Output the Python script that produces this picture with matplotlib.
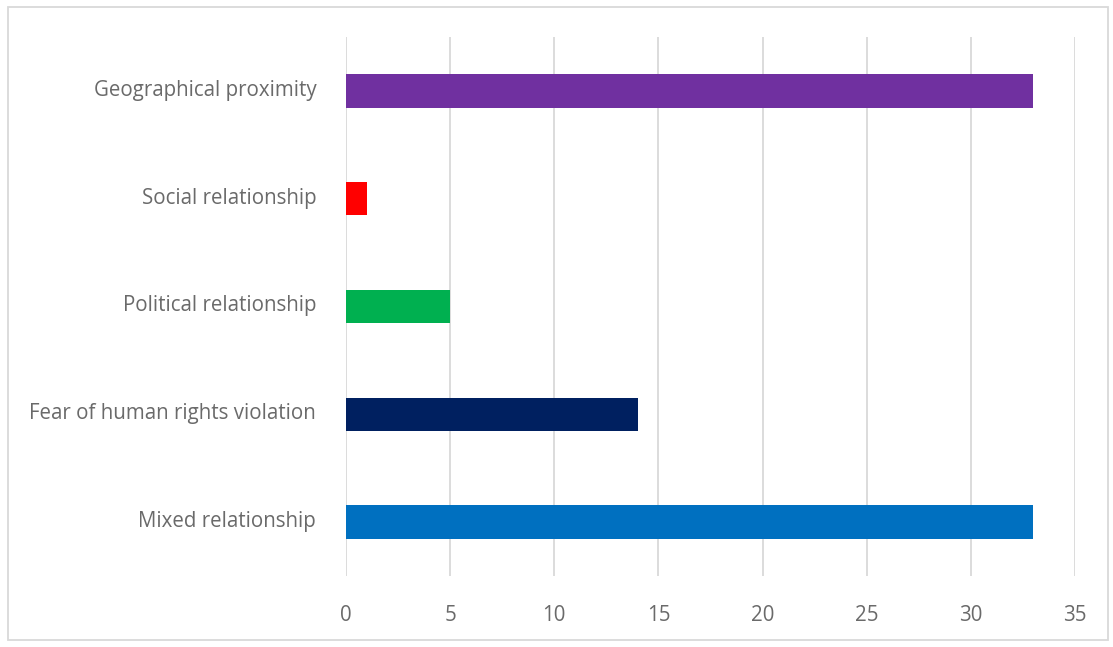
import matplotlib
matplotlib.use("Agg")
import matplotlib.pyplot as plt
import matplotlib.transforms as mtransforms
from matplotlib.patches import Rectangle

categories = ["Mixed relationship", "Fear of human rights violation",
              "Political relationship", "Social relationship",
              "Geographical proximity"]
values = [33, 14, 5, 1, 33]
colors = ["#0070C0", "#002060", "#00B050", "#FF0000", "#7030A0"]
xticks = [0, 5, 10, 15, 20, 25, 30, 35]

plt.rcParams["font.family"] = ["Open Sans", "DejaVu Sans"]

fig = plt.figure(figsize=(11.13, 6.47), dpi=100)
ax = fig.add_axes([346 / 1113, 1 - 576 / 647, (1075 - 346) / 1113, (576 - 37) / 647])

ax.barh(range(len(categories)), values, height=0.31, color=colors, zorder=3)

ax.set_xlim(0, 35)
ax.set_ylim(-0.5, len(categories) - 0.5)
ax.set_xticks(xticks)
ax.set_yticks(range(len(categories)))
ax.set_yticklabels(categories)
ax.tick_params(axis="both", length=0, colors="#6a6a6a", labelsize=14.8)
ax.tick_params(axis="x", pad=21)
ax.tick_params(axis="y", pad=21.5)

# category labels sit a little above the bar centres
shift = mtransforms.ScaledTranslation(0, 3 / 100, fig.dpi_scale_trans)
for lbl in ax.get_yticklabels():
    lbl.set_transform(lbl.get_transform() + shift)

for s in ax.spines.values():
    s.set_visible(False)
ax.grid(axis="x", color="#d9d9d9", linewidth=1.3, zorder=0)

# outer chart border
fig.patches.append(Rectangle((8 / 1113, 1 - 640 / 647), 1100 / 1113, 633 / 647,
                             transform=fig.transFigure, fill=False,
                             edgecolor="#d9d9d9", linewidth=1.3))

fig.savefig("out.png", dpi=100)
